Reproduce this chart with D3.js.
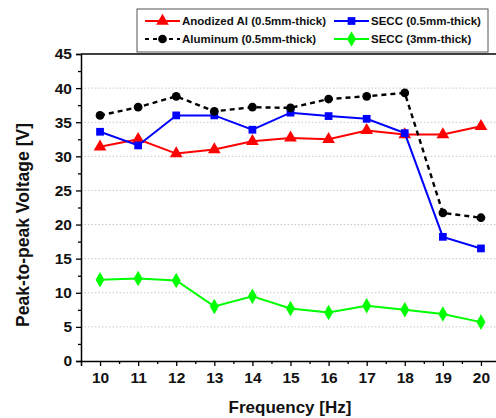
<!DOCTYPE html>
<html>
<head>
<meta charset="utf-8">
<script src="https://cdn.jsdelivr.net/npm/d3@7"></script>
<style>
  body { margin: 0; background: #fff; }
  svg { display: block; font-family: "Liberation Sans", Arial, sans-serif; font-weight: bold; }
</style>
</head>
<body>
<div id="chart"></div>
<script>
// data
var freqs = [10, 11, 12, 13, 14, 15, 16, 17, 18, 19, 20];
var anodizedAl = [31.4, 32.5, 30.4, 31.0, 32.2, 32.7, 32.5, 33.8, 33.2, 33.2, 34.4];
var secc05 = [33.6, 31.6, 36.0, 36.0, 33.9, 36.4, 35.9, 35.5, 33.4, 18.2, 16.5];
var aluminum = [36.0, 37.2, 38.8, 36.6, 37.2, 37.1, 38.4, 38.8, 39.3, 21.7, 21.0];
var secc3 = [11.9, 12.1, 11.8, 8.0, 9.5, 7.7, 7.1, 8.1, 7.5, 6.9, 5.7];
var yTicks = [0, 5, 10, 15, 20, 25, 30, 35, 40, 45];
var gridVals = [5, 10, 15, 20, 25, 30, 35, 40];

var series = [
  {name: "Anodized Al (0.5mm-thick)", values: anodizedAl, color: "#ff0000", symbol: d3.symbolTriangle, size: 70, dash: null},
  {name: "SECC (0.5mm-thick)", values: secc05, color: "#0000ff", symbol: d3.symbolSquare, size: 60, dash: null},
  {name: "Aluminum (0.5mm-thick)", values: aluminum, color: "#000000", symbol: d3.symbolCircle, size: 60, dash: "5,4"},
  {name: "SECC (3mm-thick)", values: secc3, color: "#00ff00", symbol: d3.symbolDiamond, size: 70, dash: null}
];

var width = 496, height = 418;
var plotLeft = 81, plotTop = 54, plotBottom = 361, plotRight = 500;

var svg = d3.select("#chart").append("svg")
  .attr("width", width)
  .attr("height", height);

var x = d3.scaleLinear().domain([9.5, 20.5]).range([plotLeft, plotRight]);
var y = d3.scaleLinear().domain([0, 45]).range([plotBottom, plotTop]);

// dotted grid
svg.append("g").selectAll("line").data(gridVals).enter().append("line")
  .attr("x1", plotLeft).attr("x2", plotRight)
  .attr("y1", d => y(d)).attr("y2", d => y(d))
  .attr("stroke", "#c8c8c8")
  .attr("stroke-width", 1)
  .attr("stroke-dasharray", "1.5,2");

// x axis
var xAxis = svg.append("g").attr("transform", "translate(0," + plotBottom + ")")
  .call(d3.axisBottom(x).tickValues(freqs).tickFormat(d3.format("d")).tickSize(5).tickPadding(6));
svg.append("g").attr("transform", "translate(0," + plotBottom + ")")
  .call(d3.axisBottom(x).tickValues(d3.range(10.5, 20.5, 1)).tickFormat("").tickSize(3))
  .select(".domain").remove();

// y axis
var yAxis = svg.append("g").attr("transform", "translate(" + plotLeft + ",0)")
  .call(d3.axisLeft(y).tickValues(yTicks).tickSize(5).tickPadding(4));
svg.append("g").attr("transform", "translate(" + plotLeft + ",0)")
  .call(d3.axisLeft(y).tickValues(d3.range(2.5, 45, 5)).tickFormat("").tickSize(3))
  .select(".domain").remove();

svg.selectAll(".domain").attr("stroke", "#000").attr("stroke-width", 1.5);
svg.selectAll(".tick line").attr("stroke", "#000").attr("stroke-width", 1.3);
xAxis.selectAll("text").attr("font-size", "15.5px").attr("font-weight", "bold").attr("fill", "#111")
  .attr("font-family", "Liberation Sans, Arial, sans-serif");
yAxis.selectAll("text").attr("font-size", "15.5px").attr("font-weight", "bold").attr("fill", "#111")
  .attr("font-family", "Liberation Sans, Arial, sans-serif");

// top frame line
svg.append("line")
  .attr("x1", plotLeft).attr("x2", plotRight)
  .attr("y1", plotTop).attr("y2", plotTop)
  .attr("stroke", "#000").attr("stroke-width", 1.5);

// lines + markers
var line = d3.line().x((d, i) => x(freqs[i])).y(d => y(d));

series.forEach(function(s) {
  svg.append("path")
    .datum(s.values)
    .attr("d", line)
    .attr("fill", "none")
    .attr("stroke", s.color)
    .attr("stroke-width", s.dash ? 2.4 : 2)
    .attr("stroke-dasharray", s.dash);
  svg.append("g").selectAll("path").data(s.values).enter().append("path")
    .attr("d", d3.symbol().type(s.symbol).size(s.size))
    .attr("transform", (d, i) => "translate(" + x(freqs[i]) + "," + y(d) + ")")
    .attr("fill", s.color);
});

// axis titles
svg.append("text")
  .attr("x", 290).attr("y", 413)
  .attr("text-anchor", "middle")
  .attr("font-size", "17px")
  .attr("fill", "#111")
  .text("Frequency [Hz]");

svg.append("text")
  .attr("transform", "translate(29,225) rotate(-90)")
  .attr("text-anchor", "middle")
  .attr("font-size", "17.5px")
  .attr("fill", "#111")
  .text("Peak-to-peak Voltage [V]");

// legend
var legend = svg.append("g");
legend.append("rect")
  .attr("x", 137).attr("y", 9)
  .attr("width", 351).attr("height", 43)
  .attr("fill", "#fff")
  .attr("stroke", "#555").attr("stroke-width", 1);

var legendPos = [
  {lx: 145, ty: 21}, {lx: 334, ty: 21},
  {lx: 145, ty: 39}, {lx: 334, ty: 39}
];

series.forEach(function(s, i) {
  var p = legendPos[i];
  legend.append("line")
    .attr("x1", p.lx).attr("x2", p.lx + 35)
    .attr("y1", p.ty).attr("y2", p.ty)
    .attr("stroke", s.color)
    .attr("stroke-width", 2)
    .attr("stroke-dasharray", s.dash ? "4,4" : null);
  legend.append("path")
    .attr("d", d3.symbol().type(s.symbol).size(s.size))
    .attr("transform", "translate(" + (p.lx + 17.5) + "," + p.ty + ")")
    .attr("fill", s.color);
  legend.append("text")
    .attr("x", p.lx + 37).attr("y", p.ty + 4)
    .attr("font-size", "11.5px")
    .attr("fill", "#111")
    .text(s.name);
});
</script>
</body>
</html>
